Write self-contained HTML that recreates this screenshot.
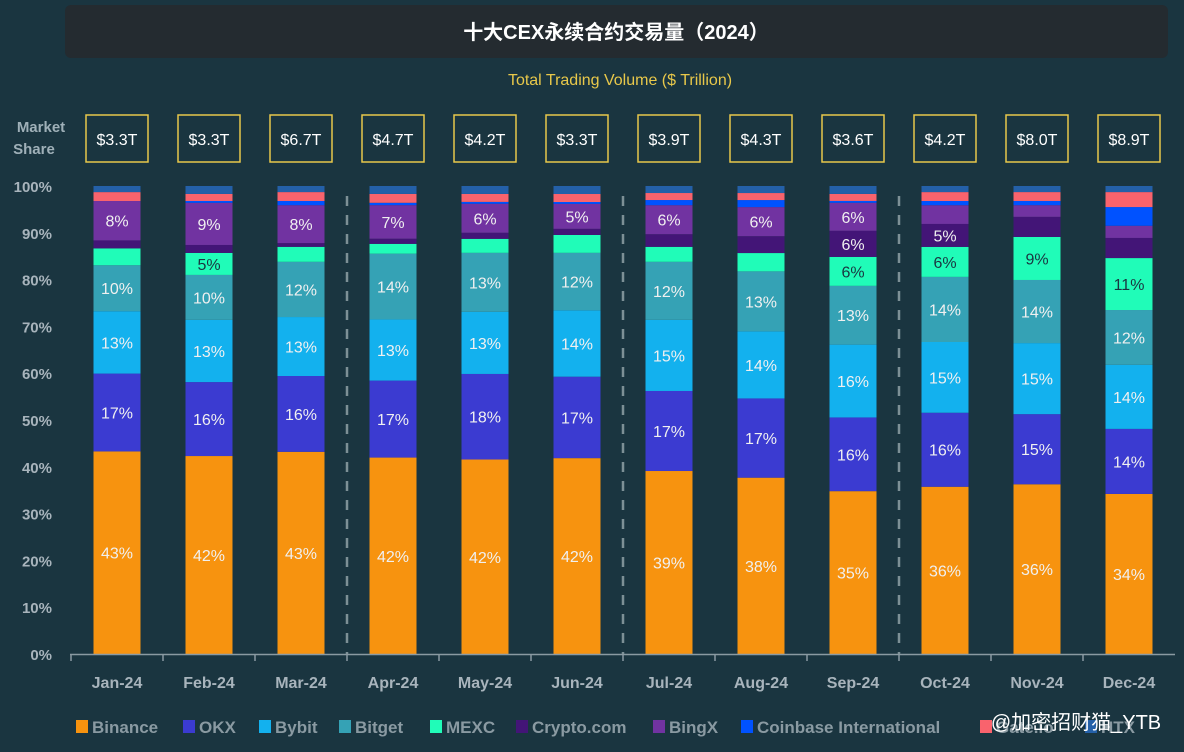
<!DOCTYPE html>
<html><head><meta charset="utf-8"><style>
body{margin:0;background:#1a3540;width:1184px;height:747px;overflow:hidden;font-family:"Liberation Sans","Noto Sans CJK SC",sans-serif}
</style></head><body>
<svg id="c" width="1184" height="747" xmlns="http://www.w3.org/2000/svg">
<rect x="0" y="0" width="1184" height="747" fill="#1a3540"/>
<rect x="65" y="5" width="1103" height="53" rx="6" fill="#242b30"/>
<text x="616" y="39" text-anchor="middle" fill="#fff" font-size="20" font-weight="bold" font-family="Liberation Sans,Noto Sans CJK SC,sans-serif">十大CEX永续合约交易量（2024）</text>
<text x="620" y="85" text-anchor="middle" fill="#e8c84a" font-size="16">Total Trading Volume ($ Trillion)</text>
<text x="41" y="132" text-anchor="middle" fill="#9fb0b8" font-size="15" font-weight="bold">Market</text>
<text x="34" y="154" text-anchor="middle" fill="#9fb0b8" font-size="15" font-weight="bold">Share</text>
<g id="g"></g>
<text x="1076" y="729" text-anchor="middle" fill="#fff" font-size="20" font-family="Liberation Sans,Noto Sans CJK SC,sans-serif">@加密招财猫_YTB</text>
</svg>
<script>
const months=["Jan-24","Feb-24","Mar-24","Apr-24","May-24","Jun-24","Jul-24","Aug-24","Sep-24","Oct-24","Nov-24","Dec-24"];
const totals=["$3.3T","$3.3T","$6.7T","$4.7T","$4.2T","$3.3T","$3.9T","$4.3T","$3.6T","$4.2T","$8.0T","$8.9T"];
const exchanges=["Binance","OKX","Bybit","Bitget","MEXC","Crypto.com","BingX","Coinbase International","Gate.io","HTX"];
const binance=[43.2,42.3,43.2,42.1,41.6,41.6,39.1,37.6,34.9,35.7,36.3,34.2];
const okx=[16.6,15.8,16.2,16.5,18.3,17.3,17.1,16.9,15.8,15.8,15.0,13.9];
const bybit=[13.3,13.3,12.6,13.1,13.3,14.1,15.2,14.3,15.6,15.1,15.2,13.7];
const bitget=[9.8,9.6,11.8,14.1,12.6,12.2,12.4,12.8,12.6,13.9,13.5,11.7];
const mexc=[3.6,4.7,3.2,2.1,3.0,3.8,3.2,3.9,6.2,6.4,9.2,11.1];
const cryptocom=[1.7,1.7,0.8,1.1,1.3,1.3,2.7,3.6,5.6,4.9,4.3,4.3];
const bingx=[8.4,9.0,8.1,7.2,6.2,5.3,6.2,6.2,6.0,4.0,2.5,2.6];
const coinbase=[0,0.4,0.9,0.5,0.4,0.4,1.1,1.5,0.4,0.9,0.9,4.0];
const gate=[1.9,1.5,1.9,1.9,1.7,1.7,1.5,1.5,1.5,1.9,1.9,3.2];
const htx=[1.3,1.7,1.3,1.7,1.7,1.7,1.5,1.5,1.7,1.3,1.3,1.3];
const yTicks=[0,10,20,30,40,50,60,70,80,90,100];
const series=[binance,okx,bybit,bitget,mexc,cryptocom,bingx,coinbase,gate,htx];
const colors=["#f7930f","#3b3bd1","#13b1ee","#35a2b5","#20fcb8","#431577","#7133a1","#0052ff","#f9636d","#2460a8"];
const NS="http://www.w3.org/2000/svg";
const g=document.getElementById('g');
const y0=654,yTop=186;
const y=v=>y0-(v/100)*(y0-yTop);
const xC=i=>117+i*92;
const bw=47;
function mk(t,a,txt){const e=document.createElementNS(NS,t);for(const k in a)e.setAttribute(k,a[k]);if(txt!==undefined)e.textContent=txt;g.appendChild(e);return e;}
yTicks.forEach(t=>{
 const e=mk('text',{x:52,y:y(t)+6,'text-anchor':'end',fill:'#a8b4bc','font-size':15,'font-weight':'bold'},t+'%');
 
 
});
[3,6,9].forEach(k=>{
 const e=mk('line',{x1:xC(k)-46,x2:xC(k)-46,y1:196,y2:654,stroke:'#7d9096','stroke-width':2.5,'stroke-dasharray':'10,9'});
 
 
});
months.forEach((m,i)=>{
 let sum=0;series.forEach(s=>sum+=s[i]);
 const sc=100/sum;
 let cum=0;
 series.forEach((s,k)=>{
  const v=s[i];const top=y((cum+v)*sc),bot=y(cum*sc);
  const r=mk('rect',{x:xC(i)-bw/2,y:top,width:bw,height:Math.max(0,bot-top),fill:colors[k]});
  
  
  if(v>=4.5){
   const t=mk('text',{x:xC(i),y:(top+bot)/2+6,'text-anchor':'middle',fill:k===4?'#1a3540':'#f0f0f0','font-size':16},Math.round(v)+'%');
   
   
  }
  cum+=v;
 });
 const b=mk('rect',{x:xC(i)-31,y:115,width:62,height:47,fill:'none',stroke:'#e8c84a','stroke-width':1.5});
 
 
 const tt=mk('text',{x:xC(i),y:145,'text-anchor':'middle',fill:'#fff','font-size':16},totals[i]);
 
 
 const xl=mk('text',{x:xC(i),y:688,'text-anchor':'middle',fill:'#a8b4bc','font-size':16,'font-weight':'bold'},m);
 
 
 const tk=mk('line',{x1:xC(i)-46,x2:xC(i)-46,y1:654,y2:661,stroke:'#8a9aa2','stroke-width':1.5});
 
 
});
const ax=mk('line',{x1:70,x2:1175,y1:654.5,y2:654.5,stroke:'#8a9aa2','stroke-width':1.5});


const lx=[76,183,259,339,430,516,653,741,980,1085];
exchanges.forEach((n,k)=>{
 const s=mk('rect',{x:lx[k],y:720,width:12,height:13,fill:colors[k]});
 
 
 const t=mk('text',{x:lx[k]+16,y:733,fill:'#8a9aa2','font-size':17,'font-weight':'bold'},n);
 
 
});
</script>
</body></html>
